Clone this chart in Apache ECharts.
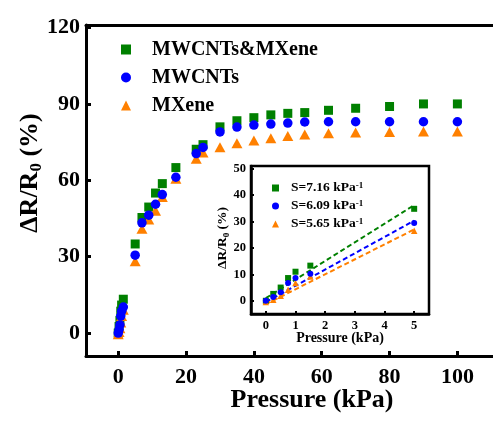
<!DOCTYPE html>
<html><head><meta charset="utf-8">
<script src="https://cdn.jsdelivr.net/npm/echarts@6/dist/echarts.min.js"></script>
<style>html,body{margin:0;padding:0;background:#fff}#c{width:493px;height:430px}</style>
</head><body><div id="c"></div>
<script>
// ---- data ----
const pressure = [0,0.25,0.5,0.75,1,1.5,5,7,9,11,13,17,23,25,30,35,40,45,50,55,62,70,80,90,100];
const hybrid   = [0,2.6,5,8.6,11,13.3,35,45.4,49.5,55,58.7,65,72.2,74,81,83.4,84.6,85.7,86.3,86.6,87.5,88.3,89,90,90];
const mwcnts   = [0,1.4,3.2,6.7,8.6,10.2,30.6,43.3,46.3,50.6,54.4,61.2,70.5,72.9,79,80.9,81.7,82.1,82.5,82.9,83,83,83,83,83];
const mxene    = [-0.5,0.4,1.9,4.2,6.7,9.2,28.2,41,44.6,48,53.4,60.6,68.5,70.9,73,74.6,75.6,76.5,77.4,78,78.5,78.8,79,79.2,79.2];
const insetX   = [0,0.25,0.5,0.75,1,1.5,5];
const insetHybrid = [0,2.6,5,8.6,11,13.3,34.8];
const insetMwcnts = [0,1.4,3.2,6.7,8.6,10.2,29.4];
const insetMxene  = [-0.5,0.4,1.9,4.2,6.7,9.2,26.5];
const fitX = [0,5];
const fitHybrid = [1.0,36.2];
const fitMwcnts = [-0.5,30.3];
const fitMxene  = [-1.3,27.0];
const seriesNames = ['MWCNTs&MXene','MWCNTs','MXene'];
const sensitivities = ['7.16','6.09','5.65'];
const mainXTicks = [0,20,40,60,80,100];
const mainYTicks = [0,30,60,90,120];
const insetXTicks = [0,1,2,3,4,5];
const insetYTicks = [0,10,20,30,40,50];

const GREEN='#008000', BLUE='#0000ff', ORANGE='#ff8000';
const FONT='Liberation Serif';
const zip=(xs,ys)=>xs.map((x,i)=>[x,ys[i]]);

const chart = echarts.init(document.getElementById('c'));
const axisLine = w=>({show:true,onZero:false,lineStyle:{color:'#000',width:w}});
const sty = c=>({color:c,opacity:1});
chart.setOption({
  animation:false,
  backgroundColor:'#fff',
  grid:[
    {left:86,top:25,width:410,height:331,show:false},
    {left:251,top:166,width:178,height:148,show:true,backgroundColor:'#fff',borderColor:'#000',borderWidth:2.5,z:3}
  ],
  xAxis:[
    {gridIndex:0,type:'value',min:-9.5,max:110.5,position:'bottom',axisLine:axisLine(3),
     axisTick:{inside:true,length:5,lineStyle:{width:3,color:'#000'},customValues:mainXTicks},
     axisLabel:{customValues:mainXTicks,margin:10,fontFamily:FONT,fontWeight:'bold',fontSize:22,color:'#000'},
     splitLine:{show:false}},
    {gridIndex:0,type:'value',min:-9.5,max:110.5,position:'top',axisLine:axisLine(3),
     axisTick:{show:false},axisLabel:{show:false},splitLine:{show:false}},
    {gridIndex:1,type:'value',min:-0.5,max:5.5,position:'bottom',axisLine:axisLine(2.5),z:4,
     axisTick:{inside:true,length:3,lineStyle:{width:2,color:'#000'},customValues:insetXTicks},
     axisLabel:{customValues:insetXTicks,margin:5,fontFamily:FONT,fontWeight:'bold',fontSize:12.5,color:'#000'},
     splitLine:{show:false}}
  ],
  yAxis:[
    {gridIndex:0,type:'value',min:-9,max:121,axisLine:axisLine(3),
     axisTick:{inside:true,length:5,lineStyle:{width:3,color:'#000'},customValues:mainYTicks},
     axisLabel:{customValues:mainYTicks,margin:6,fontFamily:FONT,fontWeight:'bold',fontSize:22,color:'#000'},
     splitLine:{show:false}},
    {gridIndex:1,type:'value',min:-5,max:51,axisLine:axisLine(2.5),z:4,
     axisTick:{inside:true,length:3,lineStyle:{width:2,color:'#000'},customValues:insetYTicks},
     axisLabel:{customValues:insetYTicks,margin:5,fontFamily:FONT,fontWeight:'bold',fontSize:12.5,color:'#000'},
     splitLine:{show:false}}
  ],
  legend:[
    {data:[{name:seriesNames[0],icon:'rect'},{name:seriesNames[1],icon:'circle'},{name:seriesNames[2],icon:'triangle'}],
     orient:'vertical',left:116,top:34,itemWidth:10,itemHeight:10,itemGap:7,
     itemStyle:{opacity:1},
     textStyle:{fontFamily:FONT,fontWeight:'bold',fontSize:20,color:'#000',lineHeight:21,padding:[0,0,0,16]}},
    {data:[{name:'S1',icon:'rect'},{name:'S2',icon:'circle'},{name:'S3',icon:'triangle'}],
     orient:'vertical',left:267,top:176,itemWidth:7,itemHeight:7,itemGap:4,
     itemStyle:{opacity:1},
     formatter:n=>'{t|S='+sensitivities[+n.slice(1)-1]+' kPa}{s|-1}',
     textStyle:{color:'#000',padding:[0,0,0,7],
       rich:{t:{fontFamily:FONT,fontWeight:'bold',fontSize:13.5,color:'#000',lineHeight:14},
             s:{fontFamily:FONT,fontWeight:'bold',fontSize:9,color:'#000',verticalAlign:'top',lineHeight:9}}}}
  ],
  graphic:[
    {type:'text',x:0,y:0,style:{text:'Pressure (kPa)',x:312,y:400,align:'center',verticalAlign:'middle',
      font:'bold 26px "Liberation Serif"',fill:'#000'}},
    {type:'text',x:30,y:173,rotation:Math.PI/2,style:{
      text:'{a|ΔR/R}{b|0}{a| (%)}',align:'center',verticalAlign:'middle',
      rich:{a:{font:'bold 26px "Liberation Serif"',fill:'#000',lineHeight:30,verticalAlign:'middle'},
            b:{font:'bold 17px "Liberation Serif"',fill:'#000',lineHeight:17,verticalAlign:'bottom'}}}},
    {type:'text',x:340,y:338,z:10,style:{text:'Pressure (kPa)',align:'center',verticalAlign:'middle',
      font:'bold 14px "Liberation Serif"',fill:'#000'}},
    {type:'text',x:223,y:238,rotation:Math.PI/2,z:10,style:{
      text:'{a|ΔR/R}{b|0}{a| (%)}',align:'center',verticalAlign:'middle',
      rich:{a:{font:'bold 13.5px "Liberation Serif"',fill:'#000',lineHeight:16,verticalAlign:'middle'},
            b:{font:'bold 9px "Liberation Serif"',fill:'#000',lineHeight:9,verticalAlign:'bottom'}}}}
  ],
  series:[
    {name:seriesNames[0],type:'scatter',xAxisIndex:0,yAxisIndex:0,data:zip(pressure,hybrid),symbol:'rect',symbolSize:9,itemStyle:sty(GREEN),z:2},
    {name:seriesNames[2],type:'scatter',xAxisIndex:0,yAxisIndex:0,data:zip(pressure,mxene),symbol:'triangle',symbolSize:[11,10],itemStyle:sty(ORANGE),z:2},
    {name:seriesNames[1],type:'scatter',xAxisIndex:0,yAxisIndex:0,data:zip(pressure,mwcnts),symbol:'circle',symbolSize:9.5,itemStyle:sty(BLUE),z:2},
    {name:'S1',type:'scatter',xAxisIndex:2,yAxisIndex:1,data:zip(insetX,insetHybrid),symbol:'rect',symbolSize:6,itemStyle:sty(GREEN),z:5},
    {name:'S3',type:'scatter',xAxisIndex:2,yAxisIndex:1,data:zip(insetX,insetMxene),symbol:'triangle',symbolSize:6.5,itemStyle:sty(ORANGE),z:5},
    {name:'S2',type:'scatter',xAxisIndex:2,yAxisIndex:1,data:zip(insetX,insetMwcnts),symbol:'circle',symbolSize:6,itemStyle:sty(BLUE),z:5},
    {name:'S1',type:'line',xAxisIndex:2,yAxisIndex:1,data:zip(fitX,fitHybrid),symbol:'none',lineStyle:{color:GREEN,width:2,type:[5,3]},itemStyle:sty(GREEN),z:5},
    {name:'S2',type:'line',xAxisIndex:2,yAxisIndex:1,data:zip(fitX,fitMwcnts),symbol:'none',lineStyle:{color:BLUE,width:2,type:[5,3]},itemStyle:sty(BLUE),z:5},
    {name:'S3',type:'line',xAxisIndex:2,yAxisIndex:1,data:zip(fitX,fitMxene),symbol:'none',lineStyle:{color:ORANGE,width:2,type:[5,3]},itemStyle:sty(ORANGE),z:5}
  ]
});
</script></body></html>
